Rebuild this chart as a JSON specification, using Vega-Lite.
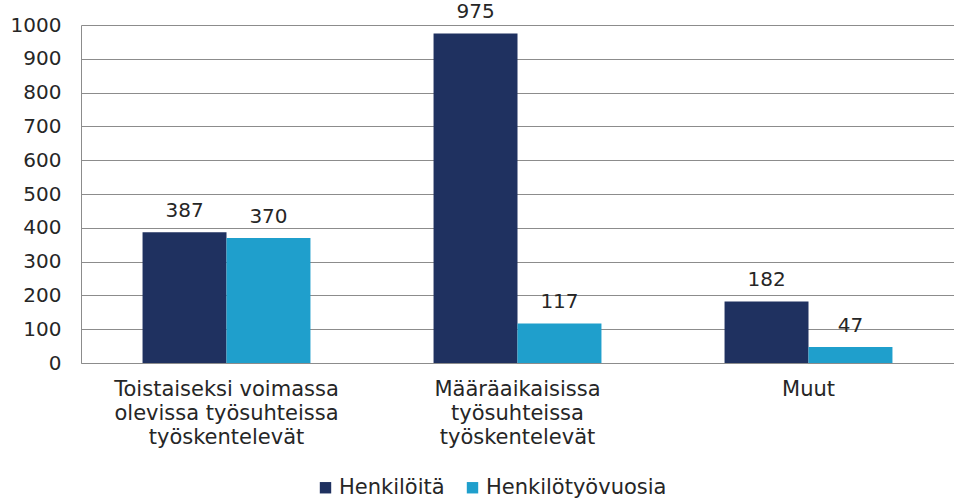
{
  "$schema": "https://vega.github.io/schema/vega-lite/v6.json",
  "autosize": {"type": "none"},
  "width": 873,
  "height": 338,
  "padding": {"left": 81, "top": 25, "right": 0, "bottom": 135},
  "background": "white",
  "config": {
    "view": {"stroke": null},
    "font": "DejaVu Sans",
    "text": {"font": "DejaVu Sans"}
  },
  "data": {
    "values": [
      {"kategoria": "Toistaiseksi voimassa olevissa työsuhteissa työskentelevät", "sarja": "Henkilöitä", "arvo": 387},
      {"kategoria": "Toistaiseksi voimassa olevissa työsuhteissa työskentelevät", "sarja": "Henkilötyövuosia", "arvo": 370},
      {"kategoria": "Määräaikaisissa työsuhteissa työskentelevät", "sarja": "Henkilöitä", "arvo": 975},
      {"kategoria": "Määräaikaisissa työsuhteissa työskentelevät", "sarja": "Henkilötyövuosia", "arvo": 117},
      {"kategoria": "Muut", "sarja": "Henkilöitä", "arvo": 182},
      {"kategoria": "Muut", "sarja": "Henkilötyövuosia", "arvo": 47}
    ]
  },
  "encoding": {
    "x": {
      "field": "kategoria",
      "type": "nominal",
      "sort": null,
      "title": null,
      "scale": {"paddingInner": 0.423, "paddingOuter": 0.2115},
      "axis": {
        "labelAngle": 0,
        "labelFontSize": 21,
        "labelColor": "#262626",
        "labelPadding": 15,
        "labelBaseline": "top",
        "labelLineHeight": 24,
        "labelLimit": 0,
        "ticks": false,
        "domainColor": "#8c8c8c",
        "domainWidth": 1,
        "labelExpr": "datum.label == 'Toistaiseksi voimassa olevissa työsuhteissa työskentelevät' ? ['Toistaiseksi voimassa', 'olevissa työsuhteissa', 'työskentelevät'] : datum.label == 'Määräaikaisissa työsuhteissa työskentelevät' ? ['Määräaikaisissa', 'työsuhteissa', 'työskentelevät'] : datum.label"
      }
    },
    "xOffset": {"field": "sarja", "type": "nominal", "sort": ["Henkilöitä", "Henkilötyövuosia"]},
    "y": {
      "field": "arvo",
      "type": "quantitative",
      "title": null,
      "scale": {"domain": [0, 1000], "nice": false},
      "axis": {
        "values": [0, 100, 200, 300, 400, 500, 600, 700, 800, 900, 1000],
        "format": "d",
        "labelFontSize": 20,
        "labelColor": "#262626",
        "labelPadding": 20,
        "ticks": false,
        "domain": true,
        "domainColor": "#8c8c8c",
        "gridColor": "#8c8c8c",
        "gridWidth": 1
      }
    }
  },
  "layer": [
    {
      "mark": {"type": "bar"},
      "encoding": {
        "color": {
          "field": "sarja",
          "type": "nominal",
          "sort": ["Henkilöitä", "Henkilötyövuosia"],
          "scale": {"range": ["#1f3160", "#1f9fcc"]},
          "legend": {
            "title": null,
            "orient": "none",
            "direction": "horizontal",
            "legendX": 234,
            "legendY": 452,
            "symbolType": "square",
            "symbolSize": 130,
            "symbolStrokeWidth": 0,
            "labelFontSize": 21,
            "labelColor": "#262626",
            "labelOffset": 3,
            "labelLimit": 0,
            "columnPadding": 17
          }
        }
      }
    },
    {
      "mark": {"type": "text", "baseline": "bottom", "dy": -11, "fontSize": 20, "color": "#262626"},
      "encoding": {"text": {"field": "arvo", "type": "quantitative"}}
    }
  ]
}
